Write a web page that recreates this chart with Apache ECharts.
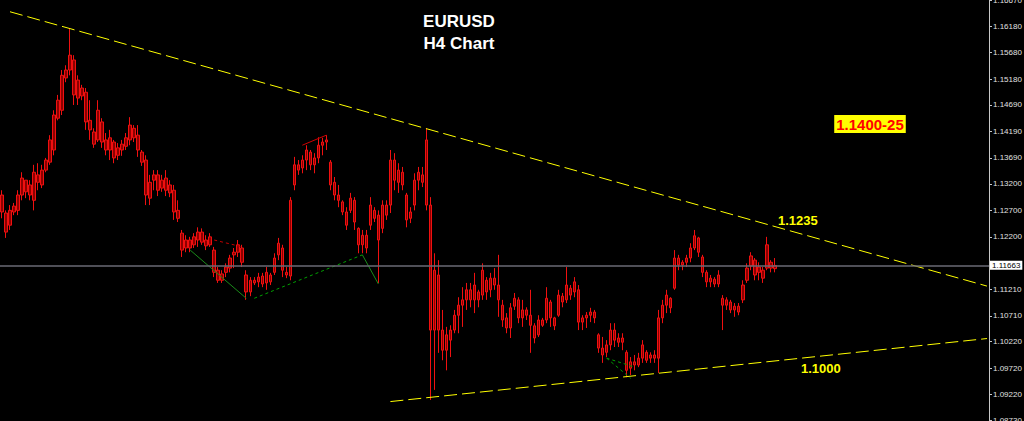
<!DOCTYPE html>
<html><head><meta charset="utf-8">
<script src="https://cdn.jsdelivr.net/npm/echarts@6/dist/echarts.min.js"></script>
<style>html,body{margin:0;padding:0;background:#000;}#c{width:1024px;height:421px;}</style>
</head><body><div id="c"></div>
<script>
const chartTitle = 'EURUSD';
const chartSubtitle = 'H4 Chart';
// [open, close, low, high]
const candles = [
[1.1299,1.1267,1.1255,1.1308],[1.1265,1.1229,1.1218,1.1270],[1.1242,1.1270,1.1233,1.1280],[1.1267,1.1278,1.1261,1.1284],
[1.1270,1.1299,1.1261,1.1308],[1.1299,1.1331,1.1289,1.1342],[1.1327,1.1305,1.1293,1.1327],[1.1299,1.1318,1.1289,1.1327],
[1.1289,1.1342,1.1270,1.1356],[1.1337,1.1323,1.1308,1.1359],[1.1318,1.1346,1.1312,1.1356],[1.1346,1.1365,1.1342,1.1369],
[1.1361,1.1403,1.1356,1.1412],[1.1384,1.1450,1.1374,1.1459],[1.1444,1.1478,1.1440,1.1488],[1.1459,1.1525,1.1450,1.1535],
[1.1520,1.1535,1.1512,1.1544],[1.1535,1.1563,1.1525,1.1614],[1.1554,1.1488,1.1469,1.1563],[1.1482,1.1516,1.1469,1.1525],
[1.1501,1.1486,1.1478,1.1507],[1.1493,1.1437,1.1422,1.1501],[1.1440,1.1422,1.1403,1.1478],[1.1418,1.1395,1.1388,1.1425],
[1.1403,1.1459,1.1399,1.1478],[1.1437,1.1399,1.1388,1.1444],[1.1403,1.1384,1.1374,1.1416],[1.1384,1.1407,1.1365,1.1422],
[1.1399,1.1369,1.1359,1.1403],[1.1374,1.1388,1.1365,1.1397],[1.1384,1.1395,1.1373,1.1403],[1.1391,1.1407,1.1384,1.1416],
[1.1403,1.1431,1.1393,1.1446],[1.1425,1.1407,1.1399,1.1431],[1.1412,1.1384,1.1371,1.1431],[1.1380,1.1361,1.1354,1.1384],
[1.1365,1.1299,1.1280,1.1374],[1.1293,1.1323,1.1280,1.1337],[1.1327,1.1337,1.1308,1.1346],[1.1337,1.1308,1.1297,1.1346],
[1.1312,1.1327,1.1305,1.1337],[1.1331,1.1308,1.1297,1.1346],[1.1318,1.1303,1.1295,1.1327],[1.1308,1.1267,1.1252,1.1318],
[1.1270,1.1255,1.1248,1.1289],[1.1227,1.1195,1.1182,1.1233],[1.1199,1.1214,1.1191,1.1223],[1.1214,1.1199,1.1191,1.1220],
[1.1205,1.1220,1.1199,1.1227],[1.1214,1.1229,1.1201,1.1238],[1.1229,1.1210,1.1205,1.1236],[1.1214,1.1203,1.1195,1.1223],
[1.1205,1.1220,1.1201,1.1227],[1.1195,1.1153,1.1144,1.1201],[1.1157,1.1138,1.1133,1.1163],[1.1138,1.1150,1.1133,1.1157],
[1.1153,1.1163,1.1144,1.1170],[1.1161,1.1180,1.1153,1.1186],[1.1186,1.1191,1.1161,1.1199],[1.1191,1.1205,1.1182,1.1214],
[1.1199,1.1172,1.1163,1.1205],[1.1148,1.1116,1.1101,1.1157],[1.1116,1.1138,1.1108,1.1144],[1.1138,1.1133,1.1129,1.1144],
[1.1135,1.1144,1.1125,1.1152],[1.1146,1.1131,1.1125,1.1152],[1.1133,1.1153,1.1120,1.1163],[1.1148,1.1135,1.1129,1.1152],
[1.1153,1.1180,1.1148,1.1189],[1.1186,1.1208,1.1176,1.1218],[1.1199,1.1157,1.1144,1.1205],[1.1153,1.1148,1.1142,1.1163],
[1.1146,1.1289,1.1138,1.1295],[1.1318,1.1356,1.1308,1.1371],[1.1356,1.1346,1.1337,1.1365],[1.1350,1.1365,1.1340,1.1374],
[1.1365,1.1384,1.1346,1.1393],[1.1380,1.1356,1.1346,1.1384],[1.1356,1.1369,1.1340,1.1378],[1.1369,1.1393,1.1359,1.1408],
[1.1393,1.1399,1.1374,1.1407],[1.1399,1.1403,1.1384,1.1412],[1.1361,1.1318,1.1308,1.1365],[1.1323,1.1299,1.1289,1.1333],
[1.1299,1.1289,1.1276,1.1318],[1.1286,1.1267,1.1261,1.1289],[1.1267,1.1242,1.1233,1.1276],[1.1270,1.1293,1.1265,1.1303],
[1.1289,1.1248,1.1233,1.1295],[1.1236,1.1205,1.1189,1.1238],[1.1205,1.1223,1.1189,1.1233],[1.1223,1.1199,1.1189,1.1233],
[1.1242,1.1280,1.1233,1.1295],[1.1270,1.1255,1.1248,1.1276],[1.1261,1.1214,1.1133,1.1270],[1.1236,1.1280,1.1227,1.1289],
[1.1280,1.1261,1.1252,1.1289],[1.1280,1.1365,1.1265,1.1384],[1.1365,1.1327,1.1308,1.1378],[1.1323,1.1346,1.1303,1.1359],
[1.1342,1.1318,1.1308,1.1352],[1.1299,1.1252,1.1238,1.1303],[1.1255,1.1267,1.1246,1.1276],[1.1280,1.1327,1.1270,1.1340],
[1.1327,1.1342,1.1308,1.1352],[1.1337,1.1323,1.1314,1.1352],[1.1403,1.1280,1.1270,1.1425],[1.1280,1.1044,1.0912,1.1295],
[1.1044,1.1157,1.0931,1.1189],[1.1148,1.1044,1.1001,1.1176],[1.1044,1.1006,1.0987,1.1082],[1.1006,1.1035,1.0968,1.1050],
[1.1025,1.1044,1.0993,1.1053],[1.1044,1.1072,1.1038,1.1082],[1.1072,1.1091,1.1038,1.1106],[1.1091,1.1101,1.1050,1.1125],
[1.1101,1.1120,1.1082,1.1133],[1.1120,1.1101,1.1087,1.1133],[1.1101,1.1129,1.1076,1.1152],[1.1116,1.1101,1.1087,1.1120],
[1.1110,1.1157,1.1101,1.1170],[1.1138,1.1116,1.1101,1.1144],[1.1120,1.1142,1.1106,1.1152],[1.1142,1.1129,1.1120,1.1161],
[1.1129,1.1101,1.1069,1.1186],[1.1091,1.1063,1.1050,1.1101],[1.1067,1.1048,1.1038,1.1076],[1.1048,1.1086,1.1029,1.1095],
[1.1089,1.1104,1.1082,1.1114],[1.1101,1.1067,1.1057,1.1106],[1.1067,1.1082,1.1050,1.1101],[1.1082,1.1072,1.1063,1.1087],
[1.1072,1.1053,1.1001,1.1120],[1.1052,1.1029,1.1019,1.1057],[1.1035,1.1063,1.1031,1.1072],[1.1063,1.1053,1.1050,1.1067],
[1.1063,1.1104,1.1057,1.1125],[1.1097,1.1067,1.1050,1.1101],[1.1067,1.1052,1.1044,1.1069],[1.1072,1.1110,1.1069,1.1120],
[1.1108,1.1097,1.1087,1.1114],[1.1101,1.1129,1.1095,1.1163],[1.1123,1.1110,1.1101,1.1129],[1.1116,1.1135,1.1106,1.1144],
[1.1120,1.1059,1.1044,1.1129],[1.1059,1.1067,1.1044,1.1072],[1.1067,1.1072,1.1048,1.1078],[1.1072,1.1078,1.1059,1.1086],
[1.1078,1.1067,1.1057,1.1082],[1.1035,1.1010,1.1001,1.1038],[1.1010,1.0997,1.0982,1.1031],[1.1002,1.1016,1.0993,1.1025],
[1.1016,1.1044,1.1006,1.1057],[1.1044,1.1025,1.1012,1.1057],[1.1029,1.1021,1.1012,1.1038],[1.1021,1.1029,1.1006,1.1038],
[1.1002,1.0968,1.0955,1.1006],[1.0972,1.0984,1.0959,1.0993],[1.0984,1.0978,1.0968,1.0997],[1.0978,1.0991,1.0974,1.1001],
[1.0991,1.1016,1.0982,1.1025],[1.1002,1.0987,1.0982,1.1006],[1.0991,1.0997,1.0982,1.1002],[1.0997,1.0991,1.0982,1.1006],
[1.0991,1.1067,1.0963,1.1082],[1.1067,1.1091,1.1057,1.1101],[1.1091,1.1110,1.1076,1.1120],[1.1104,1.1086,1.1076,1.1106],
[1.1123,1.1180,1.1120,1.1195],[1.1180,1.1167,1.1157,1.1186],[1.1167,1.1172,1.1157,1.1176],[1.1172,1.1180,1.1163,1.1186],
[1.1180,1.1199,1.1172,1.1208],[1.1199,1.1222,1.1195,1.1233],[1.1218,1.1191,1.1182,1.1220],[1.1182,1.1153,1.1144,1.1186],
[1.1153,1.1135,1.1125,1.1157],[1.1135,1.1142,1.1125,1.1148],[1.1140,1.1131,1.1125,1.1144],[1.1131,1.1148,1.1125,1.1157],
[1.1104,1.1091,1.1044,1.1110],[1.1091,1.1101,1.1082,1.1106],[1.1097,1.1082,1.1076,1.1101],[1.1082,1.1089,1.1069,1.1095],
[1.1089,1.1078,1.1072,1.1095],[1.1101,1.1129,1.1095,1.1138],[1.1138,1.1161,1.1133,1.1170],[1.1165,1.1184,1.1157,1.1191],
[1.1176,1.1148,1.1138,1.1180],[1.1153,1.1163,1.1138,1.1172],[1.1157,1.1142,1.1133,1.1163],[1.1161,1.1205,1.1157,1.1220],
[1.1172,1.1161,1.1153,1.1176],[1.1160,1.1166,1.1153,1.1180]
];
const slotCount = 247; // bars incl. empty right shift
const yTickValues = [1.16670,1.16180,1.15680,1.15180,1.14690,1.14190,1.13690,1.13200,1.12700,1.12200,1.11210,1.10710,1.10220,1.09720,1.09220,1.08730];
const yMin = 1.08723, yMax = 1.16672;
const currentPrice = 1.11663;
// trend lines: [barIndex, price]
const upperTrend = [[2, 1.1645], [246, 1.1127]];
const lowerTrend = [[97, 1.0909], [246, 1.1028]];
const greenSolidLines = [[[47, 1.1195], [61, 1.1104]], [[90, 1.1186], [94, 1.1131]]];
const greenDashedLines = [[[63, 1.1104], [90, 1.1186]], [[151, 1.0991], [157, 1.0953]], [[151, 1.0991], [158, 1.0974]]];
const redDashedLines = [[[53, 1.1214], [60, 1.1201]]];
const redSolidLines = [[[75, 1.1393], [81, 1.1412]]];
const targetText = '1.1400-25';
const upperText = '1.1235';
const lowerText = '1.1000';

const categories = Array.from({length: slotCount}, (_, i) => String(i));
const seg = (pair, color, type, width) => [
  {coord: pair[0], lineStyle: {color: color, type: type, width: width || 1}},
  {coord: pair[1]}
];
const markData = [];
markData.push(seg(upperTrend, '#ffff00', [13, 5]));
markData.push(seg(lowerTrend, '#ffff00', [13, 5]));
greenSolidLines.forEach(p => markData.push(seg(p, '#1a8c1a', 'solid')));
greenDashedLines.forEach(p => markData.push(seg(p, '#00a000', [3, 3])));
redDashedLines.forEach(p => markData.push(seg(p, '#c00000', [3, 3])));
redSolidLines.forEach(p => markData.push(seg(p, '#d00000', 'solid')));
markData.push([
  {coord: [0, currentPrice], x: 0, lineStyle: {color: '#6a6a74', type: 'solid', width: 1.5},
   label: {show: true, position: 'end', distance: 1, formatter: currentPrice.toFixed(5),
     backgroundColor: '#ffffff', color: '#000000', fontSize: 8, fontFamily: 'Liberation Sans, Arial',
     padding: [1, 2, 0, 2]}},
  {coord: [slotCount - 1, currentPrice], x: 989}
]);

const chart = echarts.init(document.getElementById('c'), null, {renderer: 'svg'});
chart.setOption({
  backgroundColor: '#000000',
  animation: false,
  grid: {left: 0, right: 35, top: 0, bottom: 0, containLabel: false, outerBoundsMode: 'none'},
  xAxis: {type: 'category', data: categories, boundaryGap: true, show: false},
  yAxis: {
    type: 'value', position: 'right', min: yMin, max: yMax, scale: true,
    axisLine: {show: true, lineStyle: {color: '#c8c8c8', width: 1}},
    axisTick: {show: true, length: 3, customValues: yTickValues, lineStyle: {color: '#c8c8c8'}},
    axisLabel: {show: true, customValues: yTickValues, formatter: v => v.toFixed(5),
      color: '#e0e0e0', fontSize: 8, fontFamily: 'Liberation Sans, Arial', margin: 4},
    splitLine: {show: false}
  },
  series: [
    {
      type: 'candlestick', data: candles, barWidth: 3,
      itemStyle: {color: '#8c0000', color0: '#8c0000', borderColor: '#f01010', borderColor0: '#f01010', borderWidth: 1}
    },
    {
      type: 'line', data: [], silent: true,
      markLine: {silent: true, symbol: ['none', 'none'], label: {show: false}, data: markData}
    }
  ],
  graphic: [
    {type: 'text', x: 459, y: 21, style: {text: chartTitle, fill: '#ffffff', font: 'bold 17px "Liberation Sans", Arial', align: 'center', verticalAlign: 'middle'}},
    {type: 'text', x: 459, y: 43, style: {text: chartSubtitle, fill: '#ffffff', font: 'bold 17px "Liberation Sans", Arial', align: 'center', verticalAlign: 'middle'}},
    {type: 'text', x: 870, y: 124, style: {text: targetText, fill: '#ff0000', font: 'bold 15px "Liberation Sans", Arial', align: 'center', verticalAlign: 'middle',
      backgroundColor: '#ffff00', padding: [2, 2, 1, 2]}},
    {type: 'text', x: 778, y: 220, style: {text: upperText, fill: '#ffff00', font: 'bold 13px "Liberation Sans", Arial', align: 'left', verticalAlign: 'middle'}},
    {type: 'text', x: 801, y: 368, style: {text: lowerText, fill: '#ffff00', font: 'bold 13px "Liberation Sans", Arial', align: 'left', verticalAlign: 'middle'}}
  ]
});
</script>
</body></html>
